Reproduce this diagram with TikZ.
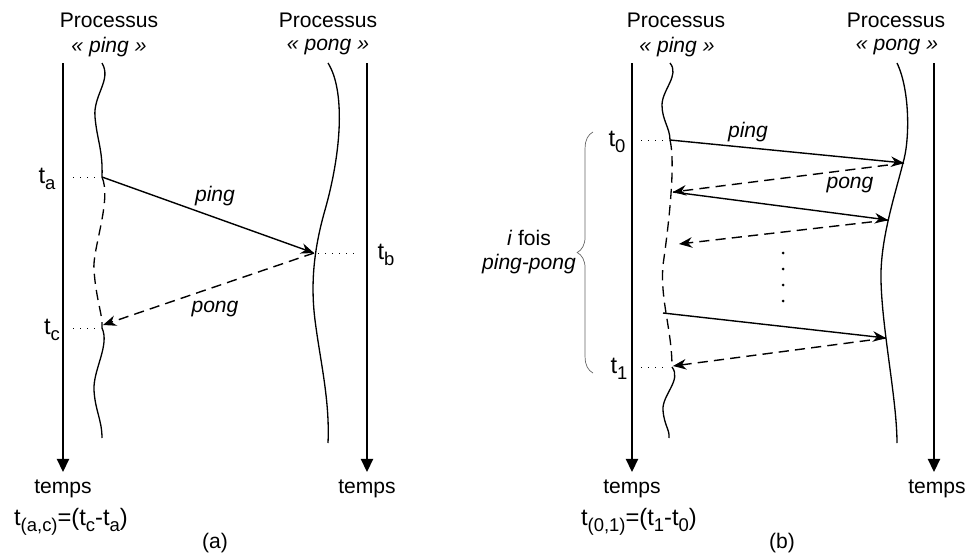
\documentclass[tikz,border=0pt]{standalone}
\usepackage{fontspec}
\setmainfont{Liberation Sans}
\usetikzlibrary{arrows.meta,decorations.pathreplacing}

\newcommand{\idx}[1]{\raisebox{-0.45ex}{\fontsize{10.5}{11}\selectfont #1}}

\tikzset{
  axis/.style={line width=0.9pt, -{Triangle[length=7.5pt,width=7pt]}},
  proc/.style={line width=0.75pt},
  msg/.style={line width=0.8pt, -{Stealth[length=7.5pt,width=6pt]}},
  reply/.style={msg, dash pattern=on 5.8pt off 3.5pt},
  dashproc/.style={proc, dash pattern=on 5.8pt off 3.5pt},
  tick/.style={line width=0.5pt, dash pattern=on 0.5pt off 3.5pt},
  tlab/.style={font=\fontsize{13.5}{15}\selectfont},
}

\begin{document}
\begin{tikzpicture}[x=0.02cm, y=-0.02cm, font=\fontsize{12}{14}\selectfont]
\useasboundingbox (0,0) rectangle (968,558);

% ---- (a) ----
\node (procA1) at (109,20) {Processus};
\node (nameA1) at (109,47) {\textit{« ping »}};
\node (procA2) at (328,20) {Processus};
\node (nameA2) at (328,47) {\textit{« pong »}};
\node (tempsA1) at (63,489) {temps};
\node (tempsA2) at (367,489) {temps};
\coordinate (axA1) at (63,63); \coordinate (endA1) at (63,472);
\coordinate (axA2) at (367,63); \coordinate (endA2) at (367,472);
\draw[axis] (axA1) -- (endA1); % time axis ping
\draw[axis] (axA2) -- (endA2); % time axis pong
\coordinate (ta) at (102,177); \coordinate (tb) at (314,253); \coordinate (tc) at (103,325);
\draw[proc] (102,63) .. controls (112,80) and (93,95) .. (95,117) .. controls (97,140) and (103,150) .. (ta); % ping process
\draw[dashproc] (ta) .. controls (112,200) and (92,250) .. (94,270) .. controls (96,300) and (103,315) .. (102,328);
\draw[proc] (102,328) .. controls (110,345) and (93,370) .. (94,390) .. controls (95,410) and (102,420) .. (102,438);
\draw[proc] (328,63) .. controls (345,90) and (342,150) .. (325,210) .. controls (315,245) and (310,280) .. (315,320) .. controls (320,360) and (330,400) .. (328,443); % pong process
\node[tlab] (lta) at (47,179) {t\idx{a}};
\node[tlab] (ltc) at (52,330) {t\idx{c}};
\node[tlab] (ltb) at (386,255) {t\idx{b}};
\draw[tick] (73,177) -- (100,177);
\draw[tick] (73,328) -- (100,328);
\draw[tick] (318,253) -- (354,253);
\draw[msg] (ta) -- (tb); % ping
\draw[reply] (tb) -- (tc); % pong
\node (pingA) at (215,196) {\textit{ping}};
\node (pongA) at (215,309) {\textit{pong}};
\node[tlab] (durA) at (71,522) {t\idx{(a,c)}=(t\idx{c}-t\idx{a})};
\node (capA) at (215,543) {(a)};

% ---- (b) ----
\node (procB1) at (676,20) {Processus};
\node (nameB1) at (677,47) {\textit{« ping »}};
\node (procB2) at (896,20) {Processus};
\node (nameB2) at (897,47) {\textit{« pong »}};
\node (tempsB1) at (632,489) {temps};
\node (tempsB2) at (937,489) {temps};
\coordinate (axB1) at (632,63); \coordinate (endB1) at (632,472);
\coordinate (axB2) at (934,63); \coordinate (endB2) at (934,472);
\draw[axis] (axB1) -- (endB1);
\draw[axis] (axB2) -- (endB2);
\coordinate (t0) at (670,140); \coordinate (t1) at (673,366);
\draw[proc] (670,63) .. controls (680,75) and (662,90) .. (662,105) .. controls (662,120) and (670,128) .. (t0); % ping process
\draw[dashproc] (t0) .. controls (676,165) and (668,230) .. (663,265) .. controls (660,300) and (672,330) .. (672,367);
\draw[proc] (672,367) .. controls (682,380) and (662,395) .. (663,410) .. controls (664,425) and (670,430) .. (669,438);
\draw[proc] (897,63) .. controls (910,90) and (910,140) .. (903,163) .. controls (895,195) and (880,240) .. (881,280) .. controls (882,330) and (897,400) .. (897,443); % pong process
\coordinate (p1) at (904,163); \coordinate (q1) at (673,192);
\coordinate (p2) at (888,220); \coordinate (q2) at (679,244);
\coordinate (q3) at (663,313); \coordinate (p3) at (886,338);
\draw[msg] (t0) -- (p1);
\draw[reply] (p1) -- (q1);
\draw[msg] (q1) -- (p2);
\draw[reply] (p2) -- (q2);
\draw[msg] (q3) -- (p3);
\draw[reply] (p3) -- (t1);
\foreach \y in {253,269,285,301} \fill (783,\y) circle (1.5); % dots
\node[tlab] (lt0) at (617,142) {t\idx{0}};
\node[tlab] (lt1) at (619,369) {t\idx{1}};
\draw[tick] (641,140) -- (667,140);
\draw[tick] (641,367) -- (667,367);
\node (pingB) at (748,132) {\textit{ping}};
\node (pongB) at (850,185) {\textit{pong}};
\draw[gray!80!black, decorate, decoration={brace, amplitude=9pt}] (593,373) -- (593,132); % brace
\node[align=center] (fois) at (529,252) {\textit{i} fois\\\textit{ping-pong}};
\node[tlab] (durB) at (639,522) {t\idx{(0,1)}=(t\idx{1}-t\idx{0})};
\node (capB) at (782,543) {(b)};
\end{tikzpicture}
\end{document}
